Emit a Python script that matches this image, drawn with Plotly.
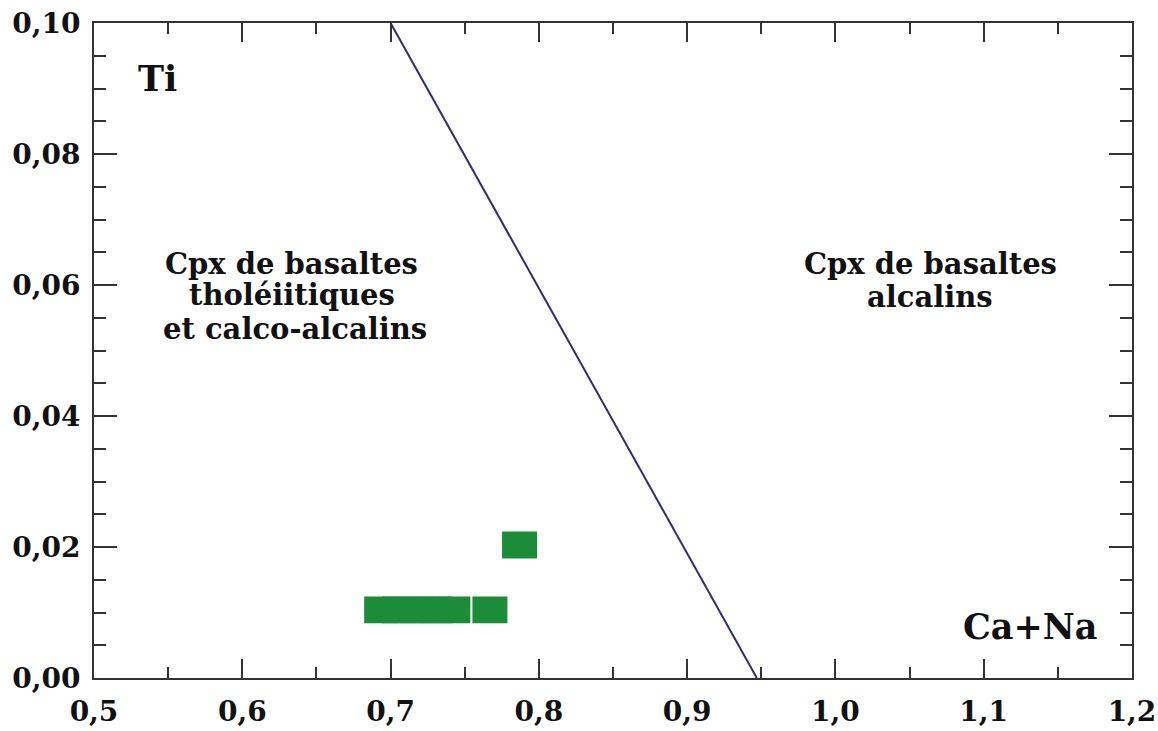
import plotly.graph_objects as go

# Data
cpx_x = [0.694, 0.706, 0.718, 0.730, 0.742, 0.767, 0.787]
cpx_y = [0.0104, 0.0104, 0.0104, 0.0104, 0.0104, 0.0104, 0.0203]

# discriminant line (Ca+Na vs Ti)
line_x = [0.700, 0.947]
line_y = [0.100, 0.000]

x_ticks = [0.5, 0.6, 0.7, 0.8, 0.9, 1.0, 1.1, 1.2]
y_ticks = [0.00, 0.02, 0.04, 0.06, 0.08, 0.10]

GREEN = "#1c8c38"
NAVY = "#2e2e70"
AXC = "#333333"
HW = 0.0118   # half width of a sample mark (x units)
HH = 0.00206  # half height of a sample mark (y units)

fig = go.Figure()

for xv, yv in zip(cpx_x, cpx_y):
    fig.add_trace(go.Scatter(
        x=[xv - HW, xv + HW, xv + HW, xv - HW, xv - HW],
        y=[yv - HH, yv - HH, yv + HH, yv + HH, yv - HH],
        fill="toself", fillcolor=GREEN, mode="lines",
        line=dict(width=0, color=GREEN), showlegend=False, hoverinfo="skip"))

fig.add_trace(go.Scatter(x=line_x, y=line_y, mode="lines",
                         line=dict(color=NAVY, width=2), showlegend=False))

BF = dict(family="DejaVu Serif", size=29, color="#111111")

def ann(text, x, y, size=29):
    f = dict(BF)
    f["size"] = size
    fig.add_annotation(x=x, y=y, xref="x", yref="y", text="<b>" + text + "</b>",
                       showarrow=False, font=f, xanchor="center", yanchor="middle")

ann("Cpx de basaltes", 0.6335, 0.0632)
ann("tholéiitiques", 0.6335, 0.0585)
ann("et calco-alcalins", 0.6355, 0.0533)
ann("Cpx de basaltes", 1.064, 0.0632)
ann("alcalins", 1.064, 0.0582)
ann("Ti", 0.5425, 0.0915, 35)
ann("Ca+Na", 1.1315, 0.0079, 35)

tickfont = dict(family="DejaVu Serif", size=28, color="#111111", weight="bold")

fig.update_xaxes(range=[0.5, 1.2], tickvals=x_ticks, tickformat=".1f", automargin=False,
                 showgrid=False, zeroline=False, showline=True, linecolor=AXC, linewidth=2,
                 mirror="allticks", ticks="inside", ticklen=19, tickwidth=2, tickcolor=AXC,
                 minor=dict(dtick=0.05, tick0=0.5, ticks="inside", ticklen=11, tickwidth=2,
                            tickcolor=AXC, showgrid=False),
                 tickfont=tickfont, ticklabelstandoff=7)
fig.update_yaxes(range=[0.0, 0.1], tickvals=y_ticks, tickformat=".2f", automargin=False,
                 showgrid=False, zeroline=False, showline=True, linecolor=AXC, linewidth=2,
                 mirror="allticks", ticks="inside", ticklen=23, tickwidth=2, tickcolor=AXC,
                 minor=dict(dtick=0.005, tick0=0.0, ticks="inside", ticklen=12, tickwidth=2,
                            tickcolor=AXC, showgrid=False),
                 tickfont=tickfont, ticklabelstandoff=6)

fig.update_layout(width=1158, height=731, separators=", ",
                  margin=dict(l=94, r=26, t=23, b=53),
                  plot_bgcolor="white", paper_bgcolor="white")

fig.write_html("out.html", config={"displayModeBar": False},
               post_script="document.body.style.margin='0';document.body.style.overflow='hidden';")
